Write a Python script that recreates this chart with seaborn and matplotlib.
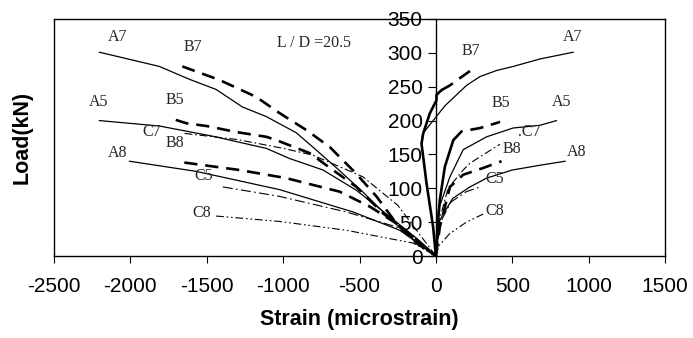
import matplotlib
matplotlib.use("Agg")
import matplotlib.pyplot as plt
import seaborn as sns
import numpy as np

# ---------------- data (strain in microstrain, load in kN) ----------------
A7L_s = [-2204, -1811, -1614, -1439, -1266, -1111, -914, -806, -650, -480, -300, -150, 0]
A7L_L = [301, 280, 261, 246, 220, 206, 182, 161, 130, 95, 55, 25, 0]
B7L_s = [-1660, -1417, -1177, -1023, -848, -695, -523, -389, -258, -127, 0]
B7L_L = [280, 260, 235, 211, 186, 161, 122, 88, 48, 19, 0]
A5L_s = [-2204, -1811, -1463, -1111, -958, -739, -520, -302, -120, 0]
A5L_L = [200, 192, 177, 159, 144, 127, 97, 58, 25, 0]
B5L_s = [-1703, -1633, -1502, -1305, -1109, -1043, -827, -674, -520, -346, -150, 0]
B5L_L = [201, 196, 192, 183, 176, 171, 152, 127, 102, 63, 28, 0]
C7L_s = [-1645, -1300, -1000, -806, -478, -250, 0]
C7L_L = [181, 172, 159, 149, 117, 75, 0]
B8L_s = [-1647, -1286, -980, -630, -433, -258, 0]
B8L_L = [138, 127, 115, 95, 73, 48, 0]
A8L_s = [-2007, -1570, -1023, -542, -236, 0]
A8L_L = [140, 125, 98, 65, 38, 0]
C5L_s = [-1395, -1023, -586, -258, 0]
C5L_L = [102, 88, 65, 43, 0]
C8L_s = [-1439, -1023, -586, -148, 0]
C8L_L = [59, 51, 38, 19, 0]

A7R_s = [0, -18, -61, -94, -85, 60, 201, 289, 398, 507, 682, 900]
A7R_L = [0, 43, 107, 166, 181, 222, 252, 265, 274, 280, 291, 301]
B7R_s = [0, -18, -61, -94, -83, -39, 4, 4, 37, 92, 135, 234]
B7R_L = [0, 43, 107, 166, 181, 211, 230, 238, 245, 252, 259, 275]
B7R_solid_n = 9
A5R_s = [0, 16, 92, 179, 332, 505, 681, 790]
A5R_L = [0, 68, 117, 157, 176, 189, 193, 200]
B5R_s = [0, 10, 26, 59, 114, 168, 290, 420]
B5R_L = [0, 40, 83, 132, 171, 184, 189, 198]
B5R_solid_n = 5
C7R_s = [0, 25, 80, 179, 223, 419]
C7R_L = [0, 55, 100, 127, 137, 165]
B8R_s = [0, 26, 92, 179, 310, 430]
B8R_L = [0, 43, 102, 120, 130, 140]
A8R_s = [0, 26, 110, 223, 332, 500, 681, 847]
A8R_L = [0, 53, 85, 102, 115, 127, 134, 140]
C5R_s = [0, 30, 100, 200, 290]
C5R_L = [0, 50, 80, 95, 102]
C8R_s = [0, 20, 90, 200, 310]
C8R_L = [0, 15, 33, 50, 62]

labels_left = ["A7", "B7", "A5", "B5", "C7", "B8", "A8", "C5", "C8"]
labels_left_s = [-2081, -1590, -2205, -1708, -1858, -1708, -2081, -1518, -1531]
labels_left_L = [323, 309, 227, 230, 183, 167, 152, 118, 63]
labels_right = ["B7", "A7", "B5", "A5", ".C7", "B8", "A8", "C5", "C8"]
labels_right_s = [230, 898, 426, 825, 610, 497, 924, 386, 386]
labels_right_L = [303, 323, 226, 227, 183, 158, 154, 114, 66]
title_text = "L / D =20.5"
x_ticks = [-2500, -2000, -1500, -1000, -500, 0, 500, 1000, 1500]
y_ticks = [0, 50, 100, 150, 200, 250, 300, 350]

# ---------------- style ----------------
sns.set_theme(style="white")
plt.rcParams["font.family"] = ["Liberation Sans", "DejaVu Sans"]
plt.rcParams["axes.unicode_minus"] = False

fig = plt.figure(figsize=(6.93, 3.38), dpi=100)
ax = fig.add_axes([54 / 693, 82 / 338, 611 / 693, 237 / 338])

thin = dict(color="black", linewidth=0.9)
thick_dash = dict(color="black", linewidth=1.9, linestyle=(0, (5, 3)))
thick_solid = dict(color="black", linewidth=1.9, linestyle="-")
dashdot_c7 = dict(color="black", linewidth=0.8, linestyle=(0, (7, 2.5, 1.5, 2.5)))
dashdot_c5 = dict(color="black", linewidth=0.8, linestyle=(0, (9, 3, 1.5, 3)))
dashdot_c8 = dict(color="black", linewidth=0.8, linestyle=(0, (7, 2.5, 1.5, 2.5, 1.5, 2.5)))


def draw(xs, ys, style):
    sns.lineplot(x=xs, y=ys, sort=False, estimator=None, ax=ax, **style)


# A series - thin solid
for xs, ys in [(A7L_s, A7L_L), (A5L_s, A5L_L), (A8L_s, A8L_L),
               (A7R_s, A7R_L), (A5R_s, A5R_L), (A8R_s, A8R_L)]:
    draw(xs, ys, thin)
# B series - thick dashed
for xs, ys in [(B7L_s, B7L_L), (B5L_s, B5L_L), (B8L_s, B8L_L), (B8R_s, B8R_L)]:
    draw(xs, ys, thick_dash)
draw(B7R_s[:B7R_solid_n], B7R_L[:B7R_solid_n], thick_solid)
draw(B7R_s[B7R_solid_n - 1:], B7R_L[B7R_solid_n - 1:], thick_dash)
draw(B5R_s[:B5R_solid_n], B5R_L[:B5R_solid_n], thick_solid)
draw(B5R_s[B5R_solid_n - 1:], B5R_L[B5R_solid_n - 1:], thick_dash)
# C series - dash-dot
draw(C7L_s, C7L_L, dashdot_c7)
draw(C7R_s, C7R_L, dashdot_c7)
draw(C5L_s, C5L_L, dashdot_c5)
draw(C5R_s, C5R_L, dashdot_c5)
draw(C8L_s, C8L_L, dashdot_c8)
draw(C8R_s, C8R_L, dashdot_c8)

serif = ["Liberation Serif", "DejaVu Serif"]
for t, xs, ys in zip(labels_left, labels_left_s, labels_left_L):
    ax.text(xs, ys, t, ha="center", va="center", fontsize=11.5, family=serif)
for t, xs, ys in zip(labels_right, labels_right_s, labels_right_L):
    ax.text(xs, ys, t, ha="center", va="center", fontsize=11.5, family=serif)
ax.text(-798, 315, title_text, ha="center", va="center", fontsize=11.5, family=serif)

ax.set_xlim(-2500, 1500)
ax.set_ylim(0, 350)
ax.set_xticks(x_ticks)
ax.set_xticklabels([str(v) for v in x_ticks])
ax.set_yticks(y_ticks)
ax.set_yticklabels([str(v) for v in y_ticks])

for sp in ax.spines.values():
    sp.set_color("black")
    sp.set_linewidth(1.0)
    sp.set_visible(True)
ax.spines["left"].set_position(("data", 0))
ax.plot([0, 0], [0, 1], transform=ax.transAxes, color="black", lw=1.0, clip_on=False)

ax.tick_params(axis="x", direction="out", length=5, width=0.8, pad=10,
               labelsize=15, colors="black", bottom=True)
ax.tick_params(axis="y", direction="out", length=6, width=0.8, pad=3.5,
               labelsize=15, colors="black", left=True)

ax.set_xlabel("Strain (microstrain)", fontsize=15.5, fontweight="bold", color="black")
ax.set_ylabel("Load(kN)", fontsize=15.5, fontweight="bold", color="black")
ax.xaxis.set_label_coords(0.5, -(309 - 256) / 237)
ax.yaxis.set_label_coords(-(54 - 33) / 611, 0.5)
ax.grid(False)

fig.savefig("out.png", dpi=100)
